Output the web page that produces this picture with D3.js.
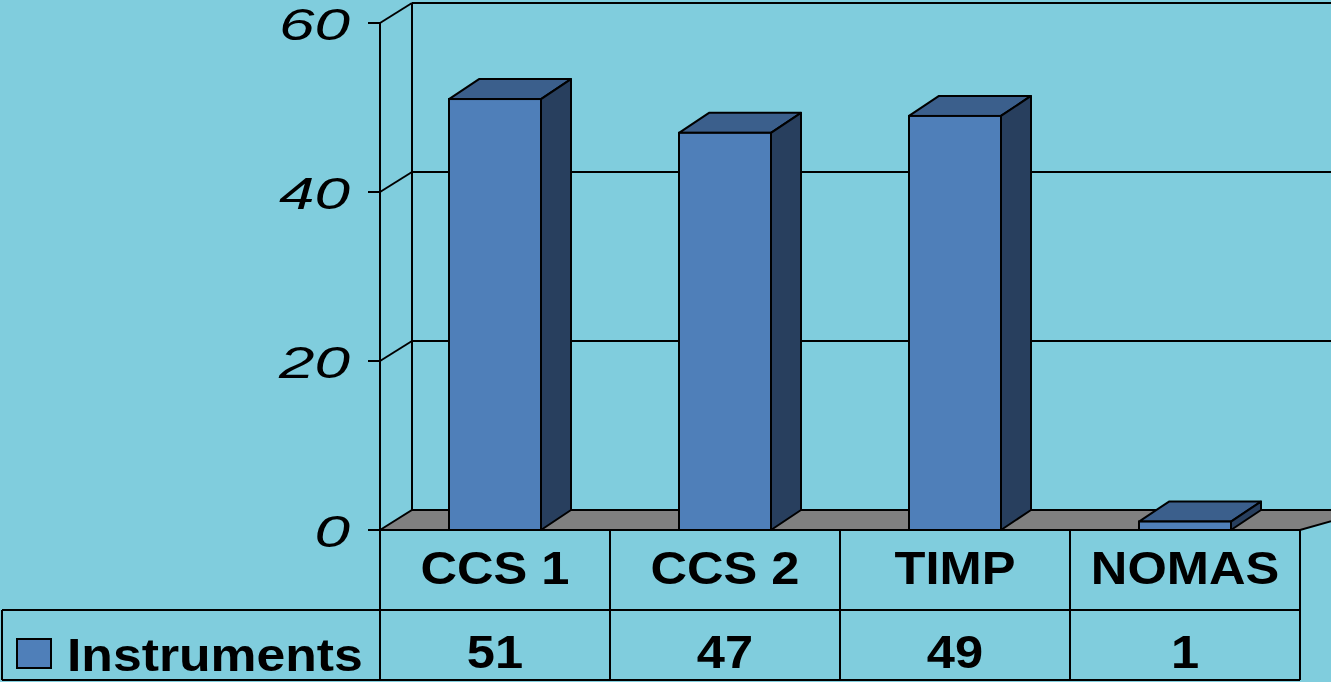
<!DOCTYPE html>
<html>
<head>
<meta charset="utf-8">
<script src="https://cdn.jsdelivr.net/npm/d3@7"></script>
<style>
  html, body { margin: 0; padding: 0; background: #80cddd; overflow: hidden; }
  svg { display: block; }
  text { font-family: "Liberation Sans", Arial, sans-serif; fill: #000; }
</style>
</head>
<body>
<svg id="chart" width="1331" height="682"></svg>
<script>
// 数据
const categories = ["CCS 1", "CCS 2", "TIMP", "NOMAS"];
const instruments = [51, 47, 49, 1];
const seriesName = "Instruments";
const yTicks = [0, 20, 40, 60];

const W = 1331, H = 682;
const svg = d3.select("#chart");

// 3D 深度偏移
const dx = 32, dy = -20;
const bdx = 30, bdy = -20;
const stretch = 1.1; // 表格文字横向拉伸

const x = d3.scaleBand()
  .domain(categories)
  .range([380, 1300])
  .paddingInner(0.6)
  .paddingOuter(0.3);

const y = d3.scaleLinear().domain([0, 60]).range([530, 23]);

const x0 = x.range()[0], x1 = x.range()[1];

// 地板
svg.append("path")
  .attr("d", `M${x0},${y(0)} L${x0 + dx},${y(0) + dy} L${W + 40},${y(0) + dy} L${x1},${y(0)} Z`)
  .attr("fill", "#808080")
  .attr("stroke", "#000")
  .attr("stroke-width", 2);

// 后墙网格线
svg.selectAll(".grid")
  .data(yTicks)
  .enter()
  .append("line")
  .attr("x1", x0 + dx)
  .attr("x2", W)
  .attr("y1", d => y(d) + dy)
  .attr("y2", d => y(d) + dy)
  .attr("stroke", "#000")
  .attr("stroke-width", 2);

// 斜线（侧墙）
svg.selectAll(".diag")
  .data(yTicks.filter(d => d > 0))
  .enter()
  .append("line")
  .attr("x1", x0)
  .attr("y1", d => y(d))
  .attr("x2", x0 + dx)
  .attr("y2", d => y(d) + dy)
  .attr("stroke", "#000")
  .attr("stroke-width", 2);

// 后墙左边线
svg.append("line")
  .attr("x1", x0 + dx).attr("x2", x0 + dx)
  .attr("y1", y(60) + dy).attr("y2", y(0) + dy)
  .attr("stroke", "#000").attr("stroke-width", 2);

// 柱子
const bars = svg.selectAll(".bar")
  .data(categories.map((c, i) => ({ cat: c, v: instruments[i] })))
  .enter()
  .append("g")
  .attr("class", "bar");

bars.append("path") // 顶面
  .attr("d", d => {
    const l = x(d.cat), r = l + x.bandwidth(), t = y(d.v);
    return `M${l},${t} L${l + bdx},${t + bdy} L${r + bdx},${t + bdy} L${r},${t} Z`;
  })
  .attr("fill", "#3b5f8c")
  .attr("stroke", "#000")
  .attr("stroke-width", 2)
  .attr("stroke-linejoin", "round");

bars.append("path") // 侧面
  .attr("d", d => {
    const r = x(d.cat) + x.bandwidth(), t = y(d.v), b = y(0);
    return `M${r},${t} L${r + bdx},${t + bdy} L${r + bdx},${b + bdy} L${r},${b} Z`;
  })
  .attr("fill", "#283f5e")
  .attr("stroke", "#000")
  .attr("stroke-width", 2)
  .attr("stroke-linejoin", "round");

bars.append("rect") // 正面
  .attr("x", d => x(d.cat))
  .attr("y", d => y(d.v))
  .attr("width", x.bandwidth())
  .attr("height", d => y(0) - y(d.v))
  .attr("fill", "#4f7fb9")
  .attr("stroke", "#000")
  .attr("stroke-width", 2);

// Y 轴
svg.append("line")
  .attr("x1", x0).attr("x2", x0)
  .attr("y1", y(60)).attr("y2", y(0))
  .attr("stroke", "#000").attr("stroke-width", 2);

svg.selectAll(".tick")
  .data(yTicks)
  .enter()
  .append("line")
  .attr("x1", x0 - 12).attr("x2", x0)
  .attr("y1", d => y(d)).attr("y2", d => y(d))
  .attr("stroke", "#000").attr("stroke-width", 2);

svg.selectAll(".ylab")
  .data(yTicks)
  .enter()
  .append("text")
  .attr("x", 350)
  .attr("y", d => y(d) + 17)
  .attr("text-anchor", "end")
  .attr("font-size", 45)
  .attr("font-style", "italic")
  .attr("textLength", d => String(d).length * 35.5)
  .attr("lengthAdjust", "spacingAndGlyphs")
  .text(d => d);

// 数据表
const rowTop = 530, rowMid = 610, rowBot = 680;
const tbl = svg.append("g").attr("stroke", "#000").attr("stroke-width", 2);
tbl.append("line").attr("x1", x0).attr("x2", x1).attr("y1", rowTop).attr("y2", rowTop);
tbl.append("line").attr("x1", 2).attr("x2", x1).attr("y1", rowMid).attr("y2", rowMid);
tbl.append("line").attr("x1", 2).attr("x2", x1).attr("y1", rowBot).attr("y2", rowBot);
tbl.append("line").attr("x1", 2).attr("x2", 2).attr("y1", rowMid).attr("y2", rowBot);
const step = x.step();
d3.range(categories.length + 1).forEach(i => {
  tbl.append("line")
    .attr("x1", x0 + i * step).attr("x2", x0 + i * step)
    .attr("y1", rowTop).attr("y2", rowBot);
});

svg.selectAll(".catlab")
  .data(categories)
  .enter()
  .append("text")
  .attr("transform", d => `translate(${x(d) + x.bandwidth() / 2},584) scale(${stretch},1)`)
  .attr("text-anchor", "middle")
  .attr("font-size", 46)
  .attr("font-weight", "bold")
  .text(d => d);

svg.selectAll(".vallab")
  .data(categories.map((c, i) => ({ cat: c, v: instruments[i] })))
  .enter()
  .append("text")
  .attr("transform", d => `translate(${x(d.cat) + x.bandwidth() / 2},668) scale(${stretch},1)`)
  .attr("text-anchor", "middle")
  .attr("font-size", 46)
  .attr("font-weight", "bold")
  .text(d => d.v);

// 图例
svg.append("rect")
  .attr("x", 17).attr("y", 639)
  .attr("width", 34).attr("height", 29)
  .attr("fill", "#4f7fb9")
  .attr("stroke", "#000").attr("stroke-width", 2);

svg.append("text")
  .attr("transform", `translate(67,671) scale(${stretch},1)`)
  .attr("font-size", 47)
  .attr("font-weight", "bold")
  .text(seriesName);
</script>
</body>
</html>
